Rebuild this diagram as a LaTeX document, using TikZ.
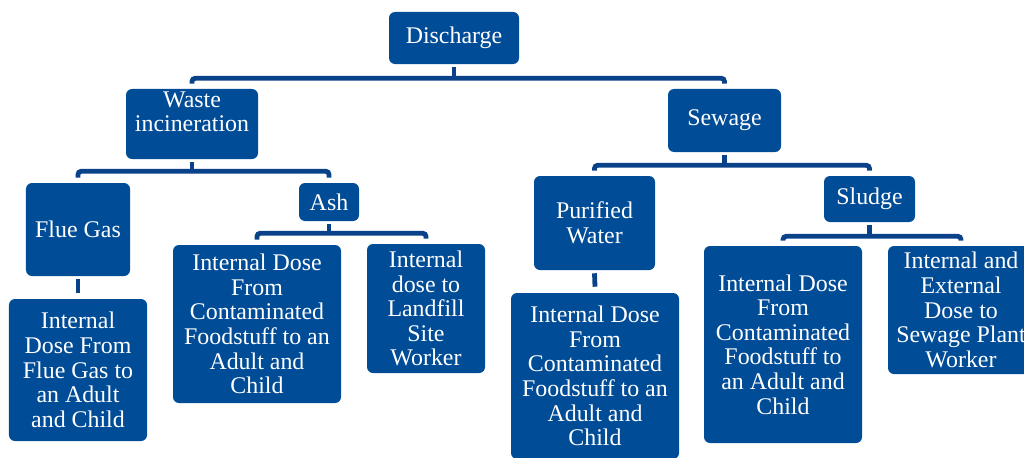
\documentclass[tikz,border=0pt]{standalone}
\usepackage{fontspec}
\setmainfont{Liberation Serif}
\newfontfamily\boxfont{Liberation Serif}
\definecolor{boxblue}{RGB}{0,76,151}
\definecolor{linkblue}{RGB}{10,66,138}

\begin{document}
\begin{tikzpicture}[x=0.25mm, y=-0.25mm,
  box/.style={fill=boxblue, text=white, rounded corners=1.5mm, align=center, inner sep=0pt,
    font=\boxfont\fontsize{17}{17.5}\selectfont},
  link/.style={draw=linkblue, line width=1.2mm, rounded corners=0.8mm}]
\useasboundingbox (0,0) rectangle (1024,457);
% top levels
\node[box, minimum width=32.5mm, minimum height=13mm] (dis) at (454,38) {Discharge};
\node[box, minimum width=33mm, minimum height=17.5mm] (wi) at (192,124) {Waste\\incineration\\~};
\node[box, minimum width=28.25mm, minimum height=15.75mm] (sew) at (724.5,120.5) {Sewage};
% waste incineration branch
\node[box, minimum width=26mm, minimum height=23.25mm] (fg) at (78,229.5) {Flue Gas};
\node[box, minimum width=34.5mm, minimum height=35.5mm] (fgc) at (78,370) {Internal\\Dose From\\Flue Gas to\\an Adult\\and Child};
\node[box, minimum width=15mm, minimum height=9.5mm] (ash) at (329,202) {Ash};
\node[box, minimum width=42mm, minimum height=39.5mm] (ashf) at (257,324) {Internal Dose\\From\\Contaminated\\Foodstuff to an\\Adult and\\Child};
\node[box, minimum width=29.5mm, minimum height=32.25mm] (ashl) at (426,308.5) {Internal\\dose to\\Landfill\\Site\\Worker};
% sewage branch
\node[box, minimum width=30.25mm, minimum height=23.5mm] (pw) at (594.5,223) {Purified\\Water};
\node[box, minimum width=42mm, minimum height=41.5mm] (pwc) at (595,376) {Internal Dose\\From\\Contaminated\\Foodstuff to an\\Adult and\\Child};
\node[box, minimum width=22.75mm, minimum height=11.5mm] (sl) at (869.5,199) {Sludge};
\node[box, minimum width=39.5mm, minimum height=49.25mm] (slf) at (783,344.5) {Internal Dose\\From\\Contaminated\\Foodstuff to\\an Adult and\\Child};
\node[box, minimum width=36.5mm, minimum height=32mm] (slw) at (961,310) {Internal and\\External\\Dose to\\Sewage Plant\\Worker};
% connectors
\draw[link] ([yshift=-0.75mm]dis.south) -- ([yshift=-3.5mm]dis.south);
\draw[link] ([yshift=1.25mm]wi.north) |- ([yshift=-3.5mm]dis.south) -| ([yshift=1.25mm]sew.north);
\draw[link] ([yshift=-0.75mm]wi.south) -- ([yshift=-3mm]wi.south);
\draw[link] ([yshift=1.25mm]fg.north) |- ([yshift=-3mm]wi.south) -| ([yshift=1.25mm]ash.north);
\draw[link] ([yshift=-0.75mm]fg.south) -- ([yshift=1.5mm]fgc.north);
\draw[link] ([yshift=-0.75mm]ash.south) -- ([yshift=-3mm]ash.south);
\draw[link] ([yshift=1.25mm]ashf.north) |- ([yshift=-3mm]ash.south) -| ([yshift=1.25mm]ashl.north);
\draw[link] ([yshift=-0.75mm]sew.south) -- ([yshift=-3.25mm]sew.south);
\draw[link] ([yshift=1.25mm]pw.north) |- ([yshift=-3.25mm]sew.south) -| ([yshift=1.25mm]sl.north);
\draw[link] ([yshift=-0.75mm]pw.south) -- ([yshift=1.5mm]pwc.north);
\draw[link] ([yshift=-0.75mm]sl.south) -- ([yshift=-3.5mm]sl.south);
\draw[link] ([yshift=1.25mm]slf.north) |- ([yshift=-3.5mm]sl.south) -| ([yshift=1.25mm]slw.north);
\end{tikzpicture}
\end{document}
